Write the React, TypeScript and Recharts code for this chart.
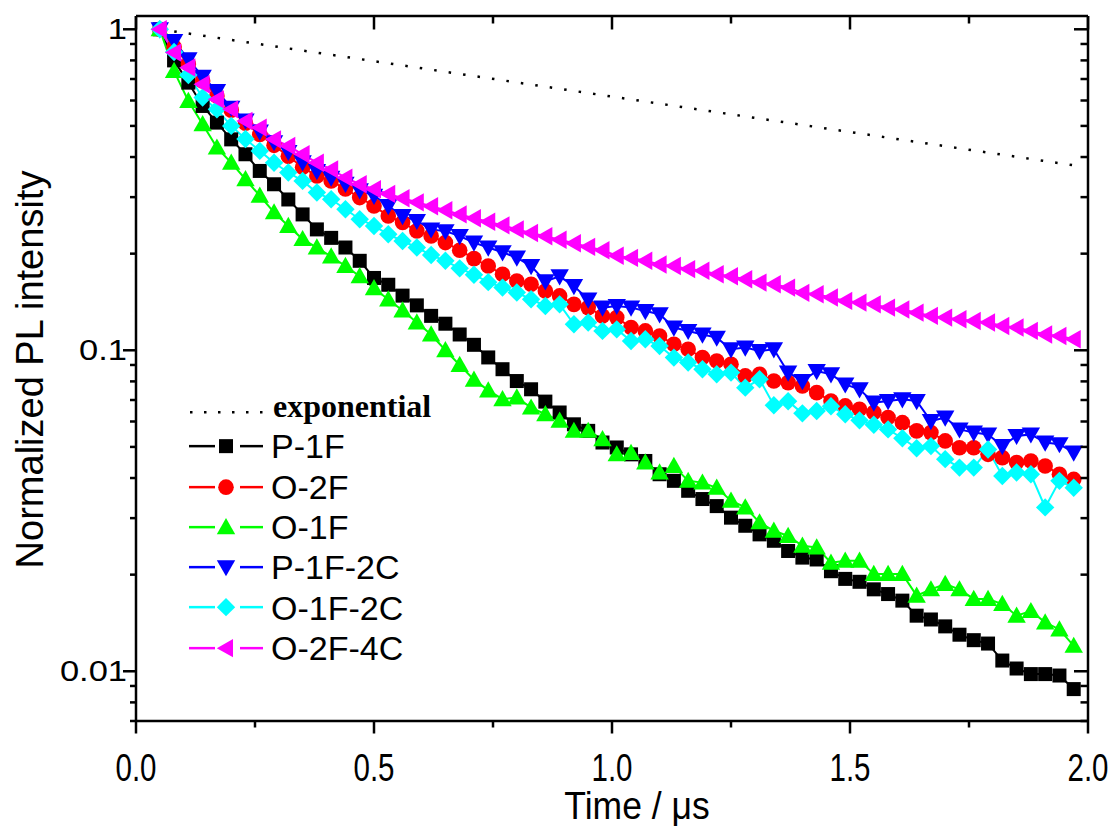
import React from 'react';
import { LineChart, Line, XAxis, YAxis, Legend } from 'recharts';

const times = [
  0.05, 0.08, 0.11, 0.14, 0.17, 0.2, 0.23, 0.26, 0.29, 0.32, 0.35, 0.38, 0.41, 0.44, 0.47, 0.5,
  0.53, 0.56, 0.59, 0.62, 0.65, 0.68, 0.71, 0.74, 0.77, 0.8, 0.83, 0.86, 0.89, 0.92, 0.95, 0.98,
  1.01, 1.04, 1.07, 1.1, 1.13, 1.16, 1.19, 1.22, 1.25, 1.28, 1.31, 1.34, 1.37, 1.4, 1.43, 1.46,
  1.49, 1.52, 1.55, 1.58, 1.61, 1.64, 1.67, 1.7, 1.73, 1.76, 1.79, 1.82, 1.85, 1.88, 1.91, 1.94, 1.97,
];

const p1f = [
  1.0, 0.8, 0.682, 0.577, 0.512, 0.454, 0.408, 0.362, 0.329, 0.295, 0.265, 0.238, 0.224, 0.209, 0.19, 0.168,
  0.16, 0.148, 0.138, 0.128, 0.121, 0.112, 0.104, 0.095, 0.0873, 0.0802, 0.0756, 0.0692, 0.064, 0.0588, 0.0561, 0.0516,
  0.0498, 0.0474, 0.0452, 0.0411, 0.0392, 0.0365, 0.0344, 0.0327, 0.0301, 0.0284, 0.0267, 0.0255, 0.0237, 0.0226, 0.0223, 0.0205,
  0.0194, 0.019, 0.018, 0.0174, 0.0166, 0.0149, 0.0145, 0.0138, 0.013, 0.0125, 0.0122, 0.0108, 0.0102, 0.0098, 0.0098, 0.0097, 0.0088,
];

const o2f = [
  1.0, 0.88, 0.78, 0.69, 0.62, 0.56, 0.51, 0.47, 0.435, 0.402, 0.372, 0.349, 0.337, 0.318, 0.299, 0.2815,
  0.262, 0.25, 0.2355, 0.227, 0.2165, 0.205, 0.193, 0.183, 0.1725, 0.1644, 0.1606, 0.153, 0.1477, 0.139, 0.1358, 0.1279,
  0.1264, 0.1177, 0.1149, 0.1108, 0.1044, 0.1007, 0.0949, 0.0926, 0.0904, 0.0832, 0.0842, 0.0802, 0.0793, 0.0774, 0.0738, 0.0695,
  0.0671, 0.0655, 0.064, 0.0617, 0.0595, 0.0561, 0.0554, 0.0522, 0.0497, 0.0497, 0.0474, 0.0463, 0.0447, 0.0452, 0.0436, 0.0411, 0.0396,
];

const o1f = [
  1.0, 0.741, 0.598, 0.506, 0.428, 0.384, 0.341, 0.303, 0.269, 0.244, 0.222, 0.209, 0.196, 0.183, 0.17, 0.156,
  0.144, 0.133, 0.122, 0.112, 0.1, 0.09, 0.081, 0.075, 0.0704, 0.0713, 0.0663, 0.0632, 0.0603, 0.0561, 0.0561, 0.0528,
  0.0474, 0.0479, 0.0447, 0.0416, 0.0436, 0.0392, 0.0387, 0.0373, 0.034, 0.0324, 0.0291, 0.0274, 0.0264, 0.0246, 0.0243, 0.0218,
  0.0221, 0.0221, 0.0201, 0.0201, 0.0201, 0.0172, 0.018, 0.0187, 0.018, 0.0168, 0.0168, 0.0162, 0.0149, 0.0154, 0.0142, 0.0135, 0.012,
];

const p1f2c = [
  1.0, 0.92, 0.806, 0.712, 0.642, 0.57, 0.52, 0.48, 0.445, 0.415, 0.385, 0.362, 0.345, 0.33, 0.315, 0.303,
  0.2815, 0.262, 0.253, 0.238, 0.235, 0.227, 0.2165, 0.209, 0.202, 0.1944, 0.183, 0.164, 0.17, 0.1585, 0.144, 0.1358,
  0.1375, 0.1358, 0.1326, 0.1295, 0.1177, 0.1149, 0.112, 0.1095, 0.1007, 0.102, 0.0995, 0.1007, 0.0852, 0.0802, 0.0862, 0.0842,
  0.0783, 0.0756, 0.0687, 0.0695, 0.0704, 0.0695, 0.0602, 0.0617, 0.0567, 0.0554, 0.0547, 0.0503, 0.0541, 0.0547, 0.0516, 0.051, 0.048,
];

const o1f2c = [
  1.0, 0.85, 0.72, 0.613, 0.563, 0.5, 0.455, 0.418, 0.384, 0.358, 0.337, 0.31, 0.2954, 0.275, 0.256, 0.244,
  0.2298, 0.219, 0.209, 0.198, 0.19, 0.18, 0.172, 0.163, 0.1568, 0.1513, 0.1442, 0.1374, 0.139, 0.1205, 0.122, 0.1149,
  0.1162, 0.1069, 0.1082, 0.1031, 0.0949, 0.0916, 0.0873, 0.0842, 0.0852, 0.0765, 0.0812, 0.0674, 0.0694, 0.0636, 0.0647, 0.0669,
  0.0632, 0.0605, 0.0586, 0.0567, 0.0532, 0.0495, 0.0503, 0.0458, 0.0431, 0.0431, 0.0491, 0.0406, 0.0416, 0.0411, 0.0324, 0.0392, 0.0373,
];

const o2f4c = [
  1.0, 0.846, 0.76, 0.674, 0.605, 0.563, 0.518, 0.494, 0.454, 0.433, 0.408, 0.384, 0.366, 0.345, 0.329, 0.3175,
  0.307, 0.2975, 0.289, 0.281, 0.273, 0.265, 0.2577, 0.2513, 0.245, 0.238, 0.232, 0.2265, 0.2209, 0.2154, 0.21, 0.2049,
  0.197, 0.194, 0.19, 0.185, 0.183, 0.179, 0.177, 0.1725, 0.17, 0.1665, 0.1625, 0.1606, 0.1568, 0.151, 0.1494, 0.146,
  0.1425, 0.1408, 0.139, 0.1358, 0.134, 0.131, 0.128, 0.1264, 0.1249, 0.1234, 0.122, 0.119, 0.1177, 0.1149, 0.112, 0.1108, 0.1082,
];

const expTimes = [0.05, 1.98];
const expValues = [1.0, 0.375];

const xTicks = [0, 0.25, 0.5, 0.75, 1.0, 1.25, 1.5, 1.75, 2.0];
const xMajorTicks = [0, 0.5, 1.0, 1.5, 2.0];
const xMajorLabels = ['0.0', '0.5', '1.0', '1.5', '2.0'];
const yTicks = [
  0.007, 0.008, 0.009, 0.01, 0.02, 0.03, 0.04, 0.05, 0.06, 0.07, 0.08, 0.09, 0.1,
  0.2, 0.3, 0.4, 0.5, 0.6, 0.7, 0.8, 0.9, 1,
];
const yMajorTicks = [0.01, 0.1, 1];
const yMajorLabels = ['0.01', '0.1', '1'];

const seriesNames = ['P-1F', 'O-2F', 'O-1F', 'P-1F-2C', 'O-1F-2C', 'O-2F-4C'];
const seriesKeys = ['p1f', 'o2f', 'o1f', 'p1f2c', 'o1f2c', 'o2f4c'];
const seriesColors = ['#000000', '#ff0000', '#00ff00', '#0000ff', '#00ffff', '#ff00ff'];
const seriesShapes = ['square', 'circle', 'triUp', 'triDown', 'diamond', 'triLeft'];
const seriesValues = [p1f, o2f, o1f, p1f2c, o1f2c, o2f4c];

const data = times.map((t, i) => {
  const row: Record<string, number> = { t };
  seriesKeys.forEach((k, j) => {
    row[k] = seriesValues[j][i];
  });
  return row;
});
const expData = expTimes.map((t, i) => ({ t, e: expValues[i] }));

const SANS = '"Liberation Sans", Arial, sans-serif';
const SERIF = '"Liberation Serif", "Times New Roman", serif';
const AXIS_W = 2.5;

function Marker({ shape, cx, cy, color }: { shape: string; cx: number; cy: number; color: string }) {
  const s = 9.2;
  const b = 7;
  switch (shape) {
    case 'square':
      return <rect x={cx - 7} y={cy - 7} width={14} height={14} fill={color} />;
    case 'circle':
      return <circle cx={cx} cy={cy} r={7.8} fill={color} />;
    case 'triUp':
      return <polygon points={`${cx},${cy - s} ${cx + s},${cy + b} ${cx - s},${cy + b}`} fill={color} />;
    case 'triDown':
      return <polygon points={`${cx},${cy + s} ${cx + s},${cy - b} ${cx - s},${cy - b}`} fill={color} />;
    case 'diamond':
      return <polygon points={`${cx},${cy - s} ${cx + s},${cy} ${cx},${cy + s} ${cx - s},${cy}`} fill={color} />;
    case 'triLeft':
      return <polygon points={`${cx - s},${cy} ${cx + b},${cy - s} ${cx + b},${cy + s}`} fill={color} />;
    default:
      return null;
  }
}

const isMajorX = (v: number) => xMajorTicks.findIndex((m) => Math.abs(m - v) < 1e-6);
const isMajorY = (v: number) => yMajorTicks.findIndex((m) => Math.abs(m - v) / m < 1e-6);

const XBottomTick = (props: any) => {
  const { x, y, payload } = props;
  const idx = isMajorX(payload.value);
  const len = idx >= 0 ? 12.5 : 6.5;
  return (
    <g>
      <line x1={x} x2={x} y1={y} y2={y + len} stroke="#000" strokeWidth={AXIS_W} />
      {idx >= 0 && (
        <text
          transform={`translate(${x},${y + 60}) scale(0.82,1.06)`}
          textAnchor="middle"
          fontFamily={SANS}
          fontSize={36}
          fill="#000"
        >
          {xMajorLabels[idx]}
        </text>
      )}
    </g>
  );
};

const XTopTick = (props: any) => {
  const { x, y, payload } = props;
  const idx = isMajorX(payload.value);
  const len = idx >= 0 ? 13.5 : 7.5;
  return <line x1={x} x2={x} y1={y} y2={y + len} stroke="#000" strokeWidth={AXIS_W} />;
};

const YLeftTick = (props: any) => {
  const { x, y, payload } = props;
  const idx = isMajorY(payload.value);
  const len = idx >= 0 ? 13 : 6;
  return (
    <g>
      <line x1={x - len} x2={x} y1={y} y2={y} stroke="#000" strokeWidth={AXIS_W} />
      {idx >= 0 && (
        <text
          transform={`translate(${x - 9},${y + 10}) scale(1.15,1)`}
          textAnchor="end"
          fontFamily={SANS}
          fontSize={30}
          fill="#000"
        >
          {yMajorLabels[idx]}
        </text>
      )}
    </g>
  );
};

const YRightTick = (props: any) => {
  const { x, y, payload } = props;
  const idx = isMajorY(payload.value);
  const len = idx >= 0 ? 14 : 7.5;
  return <line x1={x} x2={x - len} y1={y} y2={y} stroke="#000" strokeWidth={AXIS_W} />;
};

const XTitle = (props: any) => {
  const vb = props.viewBox || { x: 128, y: 713, width: 952, height: 104 };
  return (
    <text
      transform={`translate(${vb.x + vb.width / 2 + 25},${vb.y + 98}) scale(0.96,1.03)`}
      textAnchor="middle"
      fontFamily={SANS}
      fontSize={37}
      fill="#000"
    >
      Time / μs
    </text>
  );
};

const YTitle = (props: any) => {
  const vb = props.viewBox || { x: 0, y: 8, width: 128, height: 705 };
  const cx = vb.x + 22;
  const cy = vb.y + vb.height / 2 + 1;
  return (
    <text
      transform={`translate(${cx},${cy}) rotate(-90)`}
      textAnchor="middle"
      dominantBaseline="central"
      fontFamily={SANS}
      fontSize={38}
      fill="#000"
    >
      Normalized PL intensity
    </text>
  );
};

const ROW = 40.3;

const renderLegend = () => (
  <div style={{ fontFamily: SANS, color: '#000' }}>
    <div style={{ display: 'flex', alignItems: 'center', height: ROW }}>
      <svg width={84} height={ROW} style={{ display: 'block', flex: 'none' }}>
        <line x1={1} x2={76} y1={ROW / 2 + 6} y2={ROW / 2 + 6} stroke="#000" strokeWidth={2.5} strokeDasharray="2.5 11.5" />
      </svg>
      <span style={{ fontFamily: SERIF, fontWeight: 'bold', fontSize: 32, lineHeight: 1, whiteSpace: 'nowrap' }}>
        exponential
      </span>
    </div>
    {seriesNames.map((name, i) => (
      <div key={name} style={{ display: 'flex', alignItems: 'center', height: ROW }}>
        <svg width={82} height={ROW} style={{ display: 'block', flex: 'none' }}>
          <line x1={0} x2={26} y1={ROW / 2} y2={ROW / 2} stroke={seriesColors[i]} strokeWidth={2.5} />
          <Marker shape={seriesShapes[i]} cx={37} cy={ROW / 2} color={seriesColors[i]} />
          <line x1={51} x2={74} y1={ROW / 2} y2={ROW / 2} stroke={seriesColors[i]} strokeWidth={2.5} />
        </svg>
        <span style={{ fontSize: 34, lineHeight: 1, whiteSpace: 'nowrap' }}>{name}</span>
      </div>
    ))}
  </div>
);

export default function App() {
  return (
    <div style={{ width: 1104, height: 825 }}>
      <LineChart width={1104} height={825} data={data} margin={{ top: 7, right: 23, bottom: 8, left: 0 }}>
        <XAxis
          dataKey="t"
          type="number"
          domain={[0, 2]}
          allowDataOverflow
          ticks={xTicks}
          interval={0}
          tickSize={0}
          tickMargin={0}
          tickLine={false}
          tick={XBottomTick}
          height={104}
          axisLine={{ stroke: '#000', strokeWidth: AXIS_W }}
          label={XTitle}
        />
        <XAxis
          xAxisId="top"
          orientation="top"
          dataKey="t"
          type="number"
          domain={[0, 2]}
          allowDataOverflow
          ticks={xTicks}
          interval={0}
          tickSize={0}
          tickMargin={0}
          tickLine={false}
          tick={XTopTick}
          height={1}
          axisLine={{ stroke: '#000', strokeWidth: AXIS_W }}
        />
        <YAxis
          type="number"
          scale="log"
          domain={[0.007, 1.1]}
          allowDataOverflow
          ticks={yTicks}
          interval={0}
          tickSize={0}
          tickMargin={0}
          tickLine={false}
          tick={YLeftTick}
          width={128}
          axisLine={{ stroke: '#000', strokeWidth: AXIS_W }}
          label={YTitle}
        />
        <YAxis
          yAxisId="right"
          orientation="right"
          type="number"
          scale="log"
          domain={[0.007, 1.1]}
          allowDataOverflow
          ticks={yTicks}
          interval={0}
          tickSize={0}
          tickMargin={0}
          tickLine={false}
          tick={YRightTick}
          width={1}
          axisLine={{ stroke: '#000', strokeWidth: AXIS_W }}
        />
        <Line
          data={expData}
          dataKey="e"
          xAxisId="top"
          yAxisId="right"
          stroke="#000"
          strokeWidth={2.5}
          strokeDasharray="2.5 12.1"
          dot={false}
          activeDot={false}
          isAnimationActive={false}
          legendType="none"
        />
        {seriesKeys.map((k, i) => (
          <Line
            key={k}
            dataKey={k}
            name={seriesNames[i]}
            stroke={seriesColors[i]}
            strokeWidth={2}
            isAnimationActive={false}
            activeDot={false}
            dot={(p: any) => (
              <Marker key={`${k}-${p.index}`} shape={seriesShapes[i]} cx={p.cx} cy={p.cy} color={seriesColors[i]} />
            )}
          />
        ))}
        <Legend
          content={renderLegend}
          layout="vertical"
          align="center"
          verticalAlign="middle"
          wrapperStyle={{ left: 181, top: 378, width: 320 }}
        />
      </LineChart>
    </div>
  );
}
